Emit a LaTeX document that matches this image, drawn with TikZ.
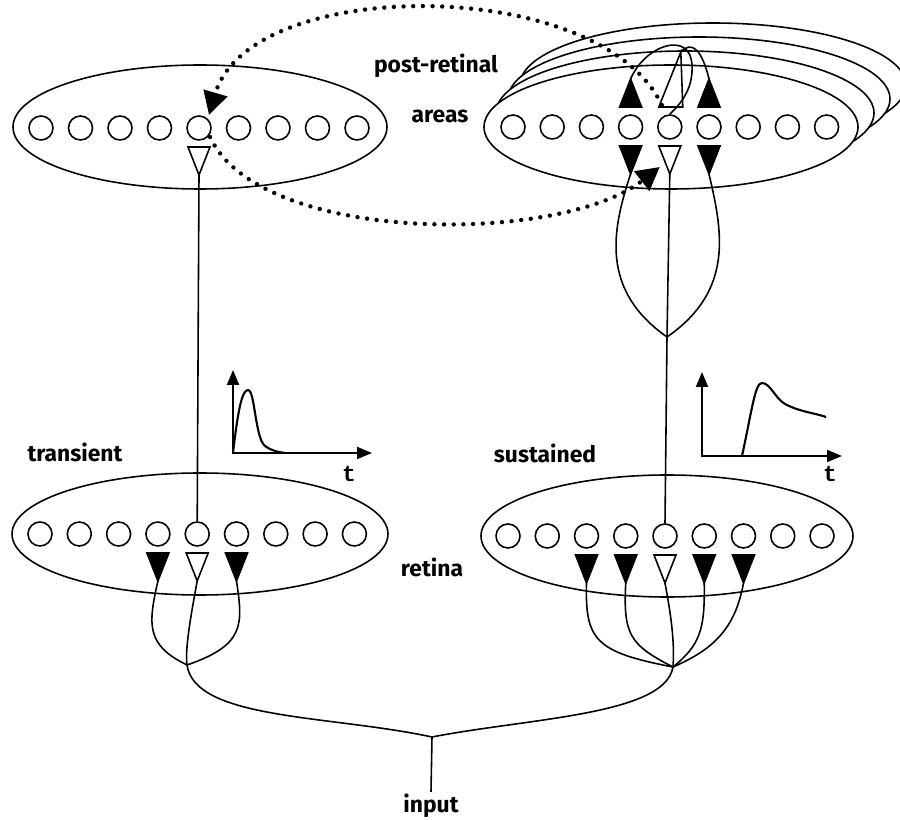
\documentclass[tikz,border=0pt]{standalone}
\usepackage{fontspec}
\setmainfont{Fira Sans}
\setmonofont{Liberation Mono}
\usepackage{tikz}
\usetikzlibrary{calc,arrows.meta}
\def\tridown#1#2{\filldraw[fill=#2] ($(#1)+(-11,19)$) -- ($(#1)+(11,19)$) -- ($(#1)+(0,47)$) -- cycle; \coordinate (#1-d) at ($(#1)+(0,47)$);}
\def\triup#1#2{\filldraw[fill=#2] ($(#1)+(-11,-20)$) -- ($(#1)+(11,-20)$) -- ($(#1)+(0,-48)$) -- cycle; \coordinate (#1-u) at ($(#1)+(0,-48)$);}
\tikzset{
	cell/.style={circle, draw, minimum size=0.48cm, inner sep=0pt},
	lbl/.style={anchor=base, inner sep=1pt, font=\bfseries\fontsize{13}{15}\selectfont},
	tlbl/.style={anchor=base, inner sep=1pt, font=\ttfamily\bfseries\fontsize{13}{15}\selectfont},
	dots/.style={line width=2.5pt, dash pattern=on 0pt off 5.5pt, line cap=round, -{Triangle[length=0.46cm,width=0.48cm]}},
	axis/.style={line width=1.1pt, {Triangle[length=0.3cm,width=0.24cm]}-{Triangle[length=0.3cm,width=0.24cm]}},
}

\begin{document}
\begin{tikzpicture}[x=0.02cm, y=-0.02cm, line width=0.9pt]
	%%%%% START %%%%%
	\useasboundingbox (0,0) rectangle (900,820);
	
	% post-retinal, left
	\draw[fill=white] (200,127) ellipse (187 and 62);
	\foreach \i in {1,...,9}
		\node[cell] (pl\i) at ({41+39.5*(\i-1)},128) {};
	\tridown{pl5}{white}
	
	% post-retinal, right (stack)
	\foreach \k in {3,2,1}
		\draw[fill=white] ({671+14*\k},{127-14*\k}) ellipse ({187+2*\k} and 62);
	\draw[fill=white] (671,127) ellipse (187 and 62);
	\foreach \i in {1,...,9}
		\node[cell] (pr\i) at ({513+39.2*(\i-1)},127) {};
	\tridown{pr4}{black}
	\tridown{pr5}{white}
	\tridown{pr6}{black}
	\triup{pr4}{black}
	\triup{pr6}{black}
	\draw ($(pr5)+(-11,-20)$) -- ($(pr5)+(13,-20)$) -- ($(pr5)+(11,-75)$) -- cycle;
	\coordinate (pr5-u) at ($(pr5)+(11,-75)$);
	\draw (pr4-u) .. controls (645,45) and (690,30) .. (692,65) .. controls (693,85) and (685,100) .. (pr5.north);
	\draw (pr6-u) .. controls (702,50) and (692,40) .. (pr5-u);
	
	\node[lbl] (post) at (436,73) {post-retinal};
	\node[lbl] (areas) at (440,123) {areas};
	
	% feedback loops
	\draw[dots] ($(pr5)+(-8,-22)$) .. controls (600,-25) and (250,-25) .. ($(pl5)+(10,-13)$);
	\draw[dots] ($(pl5)+(11,9)$) .. controls (260,245) and (560,245) .. ($(pr5)+(-10,40)$);
	
	% retina, left
	\draw (200,534) ellipse (188 and 61);
	\foreach \i in {1,...,9}
		\node[cell] (rl\i) at ({40+39.3*(\i-1)},534) {};
	\tridown{rl4}{black}
	\tridown{rl5}{white}
	\tridown{rl6}{black}
	
	% retina, right
	\draw (667,536) ellipse (186 and 61);
	\foreach \i in {1,...,9}
		\node[cell] (rr\i) at ({508+39.25*(\i-1)},536) {};
	\tridown{rr3}{black}
	\tridown{rr4}{black}
	\tridown{rr5}{white}
	\tridown{rr6}{black}
	\tridown{rr7}{black}
	
	\node[lbl] (transient) at (75,462) {transient};
	\node[lbl] (sustained) at (545,463) {sustained};
	\node[lbl] (retina) at (432,577) {retina};
	
	% transient path
	\draw (pl5-d) -- (rl5.north);
	
	% sustained path
	\coordinate (mergeR) at (667,337);
	\draw (pr4-d) .. controls (612,230) and (600,290) .. (mergeR);
	\draw (pr6-d) .. controls (722,230) and (735,290) .. (mergeR);
	\draw (pr5-d) -- (mergeR) -- (rr5.north);
	
	% input tree
	\coordinate (mergeL) at (187,665);
	\coordinate (mergeB) at (673,667);
	\coordinate (inJ) at (432,737);
	\draw (rl4-d) .. controls (148,625) and (146,645) .. (mergeL);
	\draw (rl6-d) .. controls (243,625) and (245,645) .. (mergeL);
	\draw (rl5-d) .. controls (190,620) and (185,650) .. (mergeL);
	\draw (rr3-d) .. controls (585,640) and (595,652) .. (mergeB);
	\draw (rr4-d) .. controls (623,635) and (630,645) .. (mergeB);
	\draw (rr5-d) .. controls (670,610) and (675,640) .. (mergeB);
	\draw (rr6-d) .. controls (705,630) and (700,645) .. (mergeB);
	\draw (rr7-d) .. controls (735,630) and (712,650) .. (mergeB);
	\draw (mergeL) .. controls (195,720) and (330,715) .. (inJ);
	\draw (mergeB) .. controls (665,715) and (530,718) .. (inJ);
	
	\node[lbl] (input) at (431,813) {input};
	\draw (inJ) -- (input.north);
	
	% response curves
	\draw[axis] (233,370) |- (372,453);
	\draw[line width=1.2pt] (233,453) .. controls (238,410) and (242,390) .. (248,390) .. controls (255,390) and (255,438) .. (265,446) .. controls (272,451) and (278,452) .. (285,453);
	\node[tlbl] (tL) at (349,482) {t};
	
	\draw[axis] (702,372) |- (842,456);
	\draw[line width=1.2pt] (742,456) .. controls (752,410) and (755,383) .. (762,383) .. controls (770,383) and (775,398) .. (785,404) .. controls (800,412) and (815,413) .. (826,417);
	\node[tlbl] (tR) at (830,482) {t};
	
	%%%%% END %%%%%
\end{tikzpicture}
\end{document}
